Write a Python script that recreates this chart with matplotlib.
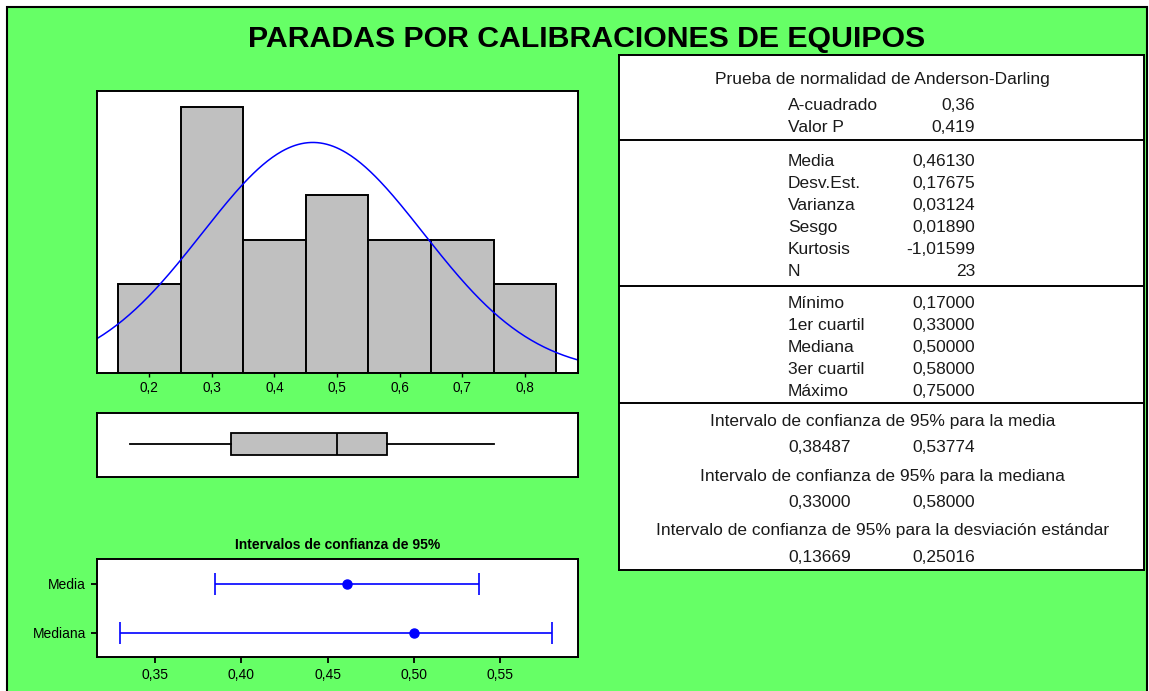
import numpy as np
import matplotlib
matplotlib.use('Agg')
import matplotlib.pyplot as plt
from matplotlib.patches import Rectangle
from matplotlib.ticker import FuncFormatter

plt.rcParams['font.family'] = ['Liberation Sans', 'DejaVu Sans']

bin_edges = [0.15, 0.25, 0.35, 0.45, 0.55, 0.65, 0.75, 0.85]
bin_counts = [2, 6, 3, 4, 3, 3, 2]
hist_ticks = [0.2, 0.3, 0.4, 0.5, 0.6, 0.7, 0.8]

media = 0.46130
desv_est = 0.17675
n_obs = 23
box_stats = dict(whislo=0.17, q1=0.33, med=0.50, q3=0.58, whishi=0.75)

ci_labels = ['Media', 'Mediana']
ci_center = [0.46130, 0.50000]
ci_low = [0.38487, 0.33000]
ci_high = [0.53774, 0.58000]
ci_ticks = [0.35, 0.40, 0.45, 0.50, 0.55]

ad_title = 'Prueba de normalidad de Anderson-Darling'
ad_rows = [('A-cuadrado', '0,36'), ('Valor P', '0,419')]
mom_rows = [('Media', '0,46130'), ('Desv.Est.', '0,17675'), ('Varianza', '0,03124'),
            ('Sesgo', '0,01890'), ('Kurtosis', '-1,01599'), ('N', '23')]
quart_rows = [('Mínimo', '0,17000'), ('1er cuartil', '0,33000'), ('Mediana', '0,50000'),
              ('3er cuartil', '0,58000'), ('Máximo', '0,75000')]
ci_rows = [('Intervalo de confianza de 95% para la media', '0,38487', '0,53774'),
           ('Intervalo de confianza de 95% para la mediana', '0,33000', '0,58000'),
           ('Intervalo de confianza de 95% para la desviación estándar', '0,13669', '0,25016')]

W, H = 1149, 691
GREEN = '#66FF66'
GREY = '#C0C0C0'


def px_axes(fig, x0, y0, x1, y1):
    # rect en pixeles (origen arriba-izquierda)
    return fig.add_axes([x0 / W, 1 - y1 / H, (x1 - x0) / W, (y1 - y0) / H])


def comma(fmt):
    return FuncFormatter(lambda v, p: format(v, fmt).replace('.', ','))


fig = plt.figure(figsize=(W / 100, H / 100), dpi=100, facecolor='white')
fig.add_artist(Rectangle((6.5 / W, -0.05), (1146.5 - 6.5) / W, 1.05 - 6.5 / H,
                         transform=fig.transFigure, facecolor=GREEN,
                         edgecolor='black', lw=1.5, zorder=-10))

fig.text(587 / W, 1 - 39 / H, 'PARADAS POR CALIBRACIONES DE EQUIPOS',
         fontsize=21.8, fontweight='bold', ha='center', va='center')

xlim_main = (0.1165, 0.885)

# --- histograma ---
ax_h = px_axes(fig, 97, 91, 578, 373)
ax_h.bar(bin_edges[:-1], bin_counts, width=np.diff(bin_edges), align='edge',
         color=GREY, edgecolor='black', lw=1.4)
xs = np.linspace(xlim_main[0], xlim_main[1], 300)
bw = bin_edges[1] - bin_edges[0]
pdf = np.exp(-0.5 * ((xs - media) / desv_est) ** 2) / (desv_est * np.sqrt(2 * np.pi))
ax_h.plot(xs, pdf * n_obs * bw, color='blue', lw=1.1)
ax_h.set_xlim(*xlim_main)
ax_h.set_ylim(0, 6.35)
ax_h.set_yticks([])
ax_h.set_xticks(hist_ticks)
ax_h.xaxis.set_major_formatter(comma('.1f'))
ax_h.tick_params(axis='x', direction='out', length=3, width=1, pad=3, labelsize=9.8)
for s in ax_h.spines.values():
    s.set_linewidth(1.4)

# --- diagrama de caja ---
ax_b = px_axes(fig, 97, 413, 578, 477)
st = dict(box_stats, fliers=[])
ax_b.bxp([st], positions=[0.04], widths=0.7, orientation='horizontal',
         patch_artist=True, showcaps=False,
         boxprops=dict(facecolor=GREY, edgecolor='black', lw=1.3),
         whiskerprops=dict(color='black', lw=1.3),
         medianprops=dict(color='black', lw=1.3))
ax_b.set_xlim(*xlim_main)
ax_b.set_ylim(-1, 1)
ax_b.set_xticks([])
ax_b.set_yticks([])
for s in ax_b.spines.values():
    s.set_linewidth(1.4)

# --- intervalos de confianza ---
fig.text(337.5 / W, 1 - 545 / H, 'Intervalos de confianza de 95%',
         fontsize=10, fontweight='bold', ha='center', va='center')
ax_c = px_axes(fig, 97, 559, 578, 657)
ci_pos = [1, 0]
for yp, c, lo, hi in zip(ci_pos, ci_center, ci_low, ci_high):
    ax_c.errorbar(c, yp, xerr=[[c - lo], [hi - c]], fmt='o', color='blue', ms=6.5,
                  capsize=8, elinewidth=1.2, capthick=1.2)
ax_c.set_xlim(0.3165, 0.595)
ax_c.set_ylim(-0.5, 1.5)
ax_c.set_xticks(ci_ticks)
ax_c.xaxis.set_major_formatter(comma('.2f'))
ax_c.set_yticks(ci_pos)
ax_c.set_yticklabels(ci_labels)
ax_c.tick_params(direction='out', length=4, width=1.3, pad=4, labelsize=10)
for s in ax_c.spines.values():
    s.set_linewidth(1.4)

# --- tabla de estadisticos ---
ax_t = px_axes(fig, 619, 55, 1144, 570)
ax_t.set_xlim(619, 1144)
ax_t.set_ylim(570, 55)
ax_t.set_xticks([])
ax_t.set_yticks([])
for s in ax_t.spines.values():
    s.set_linewidth(1.4)
for yl in [140, 286, 402.5]:
    ax_t.axhline(yl, color='black', lw=1.4)

fs = 12.5
tc = '#1a1a1a'
xc, xl, xr = 882.5, 788, 975
ax_t.text(xc, 79.5, ad_title, fontsize=fs, color=tc, ha='center', va='center')
for (lab, val), y in zip(ad_rows, [105.5, 127.5]):
    ax_t.text(xl, y, lab, fontsize=fs, color=tc, ha='left', va='center')
    ax_t.text(xr, y, val, fontsize=fs, color=tc, ha='right', va='center')
for i, (lab, val) in enumerate(mom_rows):
    y = 161.5 + 22 * i
    ax_t.text(xl, y, lab, fontsize=fs, color=tc, ha='left', va='center')
    ax_t.text(xr, y, val, fontsize=fs, color=tc, ha='right', va='center')
for i, (lab, val) in enumerate(quart_rows):
    y = 304 + 22 * i
    ax_t.text(xl, y, lab, fontsize=fs, color=tc, ha='left', va='center')
    ax_t.text(xr, y, val, fontsize=fs, color=tc, ha='right', va='center')
for i, (lab, lo, hi) in enumerate(ci_rows):
    y = 421.5 + 54.5 * i
    ax_t.text(xc, y, lab, fontsize=fs, color=tc, ha='center', va='center')
    ax_t.text(xl, y + 26.5, lo, fontsize=fs, color=tc, ha='left', va='center')
    ax_t.text(xr, y + 26.5, hi, fontsize=fs, color=tc, ha='right', va='center')

fig.savefig('out.png', dpi=100)
